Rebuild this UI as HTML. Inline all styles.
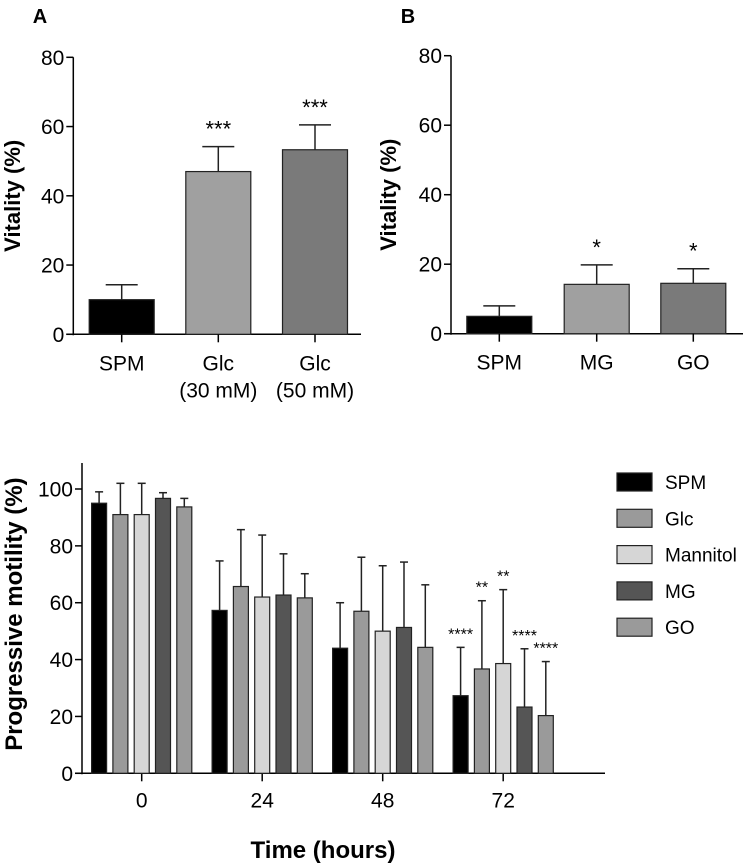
<!DOCTYPE html>
<html><head><meta charset="utf-8"><style>
html,body{margin:0;padding:0;background:#fff;}
svg{display:block;font-family:"Liberation Sans",Arial,sans-serif;}
</style></head><body>
<svg id="fig" width="750" height="867" viewBox="0 0 750 867">
<text x="40" y="23" font-size="20" font-weight="bold" text-anchor="middle">A</text>
<text x="408" y="23" font-size="20" font-weight="bold" text-anchor="middle">B</text>
<g id="pa"></g>
<g id="pb"></g>
<g id="pc"></g>
</svg>
<script>
const aCats=["SPM","Glc|(30 mM)","Glc|(50 mM)"];
const aVals=[10,47,53.3];
const aErr=[4.3,7.2,7.2];
const aSig=["","***","***"];
const aColors=["#000","#a0a0a0","#7a7a7a"];
const bCats=["SPM","MG","GO"];
const bVals=[5,14.2,14.5];
const bErr=[3,5.6,4.2];
const bSig=["","*","*"];
const vTicks=[0,20,40,60,80];
const cGroups=["0","24","48","72"];
const cSeries=["SPM","Glc","Mannitol","MG","GO"];
const cColors=["#000","#9a9a9a","#d6d6d6","#555","#9a9a9a"];
const cVals=[[95,57.3,44,27.3],[91,65.7,57,36.7],[91,62,50,38.6],[96.7,62.7,51.3,23.3],[93.7,61.7,44.3,20.3]];
const cErr=[[4,17.4,16,17],[11,20,19,24],[11,21.8,23,26],[2,14.5,23,20.5],[3,8.5,22,19]];
const cSig=[["","","","****"],["","","","**"],["","","","**"],["","","","****"],["","","","****"]];
const cTicks=[0,20,40,60,80,100];
const NS="http://www.w3.org/2000/svg";
function mk(p,t,a){const e=document.createElementNS(NS,t);for(const k in a)e.setAttribute(k,a[k]);p.appendChild(e);return e;}
function txt(p,x,y,s,a){const e=mk(p,"text",Object.assign({x:x,y:y},a));e.textContent=s;return e;}

function vitality(g,ax,y0,y80,xEnd,centers,cats,vals,errs,sig,labelX){
  const y=v=>y0-(y0-y80)*v/80;
  let l=mk(g,"line",{x1:ax,y1:y(80),x2:ax,y2:y0+1,stroke:"#000","stroke-width":1.5});
  
  l=mk(g,"line",{x1:ax-7,y1:y0,x2:xEnd,y2:y0,stroke:"#000","stroke-width":1.5});
  
  vTicks.forEach(t=>{
    mk(g,"line",{x1:ax-7,y1:y(t),x2:ax,y2:y(t),stroke:"#000","stroke-width":1.5});
    const e=txt(g,ax-9,y(t)+7.5,String(t),{"font-size":21,"text-anchor":"end"});
    
  });
  const t=txt(g,0,0,"Vitality (%)",{"font-size":22,"font-weight":"bold","text-anchor":"middle",transform:`translate(${labelX},${(y0+y80)/2}) rotate(-90)`});
  
  cats.forEach((c,i)=>{
    const cx=centers[i],w=65,top=y(vals[i]);
    const r=mk(g,"rect",{x:cx-w/2,y:top,width:w,height:y0-top,fill:aColors[i],stroke:"#222","stroke-width":1.2});
    
    const et=y(vals[i]+errs[i]);
    mk(g,"line",{x1:cx,y1:top,x2:cx,y2:et,stroke:"#222","stroke-width":1.5});
    mk(g,"line",{x1:cx-16,y1:et,x2:cx+16,y2:et,stroke:"#222","stroke-width":1.5});
    if(sig[i]){const s=txt(g,cx,et-10,sig[i],{"font-size":22,"text-anchor":"middle"});}
    mk(g,"line",{x1:cx,y1:y0,x2:cx,y2:y0+8,stroke:"#000","stroke-width":1.5});
    c.split("|").forEach((ln,k)=>{const e=txt(g,cx,y0+36+k*27,ln,{"font-size":21,"text-anchor":"middle"});});
  });
}
vitality(document.getElementById("pa"),73.3,334.3,57.3,361,[121.7,218.3,315],aCats,aVals,aErr,aSig,20);
vitality(document.getElementById("pb"),451,333.7,55.7,743,[499.3,596.7,693.3],bCats,bVals,bErr,bSig,396);

(function(){
  const g=document.getElementById("pc");
  const ax=82,y0=773.3,ppu=2.843,gc0=141.7,gsp=120.5,bw=15,bsp=21.3;
  const y=v=>y0-ppu*v;
  const gx=i=>gc0+gsp*i;
  let l=mk(g,"line",{x1:ax,y1:463,x2:ax,y2:y0+1,stroke:"#000","stroke-width":1.5});
  
  l=mk(g,"line",{x1:ax-7,y1:y0,x2:605,y2:y0,stroke:"#000","stroke-width":1.5});
  
  cTicks.forEach(t=>{
    mk(g,"line",{x1:ax-7,y1:y(t),x2:ax,y2:y(t),stroke:"#000","stroke-width":1.5});
    const e=txt(g,ax-9,y(t)+7.5,String(t),{"font-size":21,"text-anchor":"end"});
    
  });
  const t=txt(g,0,0,"Progressive motility (%)",{"font-size":24,"font-weight":"bold","text-anchor":"middle",transform:`translate(22,${y(56)}) rotate(-90)`});
  
  const xt=txt(g,323,858,"Time (hours)",{"font-size":24,"font-weight":"bold","text-anchor":"middle"});
  
  cGroups.forEach((gname,i)=>{
    const cx=gx(i);
    mk(g,"line",{x1:cx,y1:y0,x2:cx,y2:y0+8,stroke:"#000","stroke-width":1.5});
    const e=txt(g,cx,y0+34,gname,{"font-size":21,"text-anchor":"middle"});
    
    cSeries.forEach((s,j)=>{
      const bx=cx+(j-2)*bsp,top=y(cVals[j][i]);
      const r=mk(g,"rect",{x:bx-bw/2,y:top,width:bw,height:y0-top,fill:cColors[j],stroke:"#222","stroke-width":1.2});
      
      const et=y(cVals[j][i]+cErr[j][i]);
      mk(g,"line",{x1:bx,y1:top,x2:bx,y2:et,stroke:"#222","stroke-width":1.5});
      mk(g,"line",{x1:bx-4,y1:et,x2:bx+4,y2:et,stroke:"#222","stroke-width":1.5});
      if(cSig[j][i]){const m=txt(g,bx,et-8,cSig[j][i],{"font-size":16,"text-anchor":"middle"});}
    });
  });
  cSeries.forEach((s,j)=>{
    const ly=482+j*36.3;
    const lg=mk(g,"g",{});
    
    mk(lg,"rect",{x:617,y:ly-9,width:35,height:18,fill:cColors[j],stroke:"#222","stroke-width":1.2});
    txt(lg,665,ly+7,s,{"font-size":19});
  });
})();
</script>
</body></html>
